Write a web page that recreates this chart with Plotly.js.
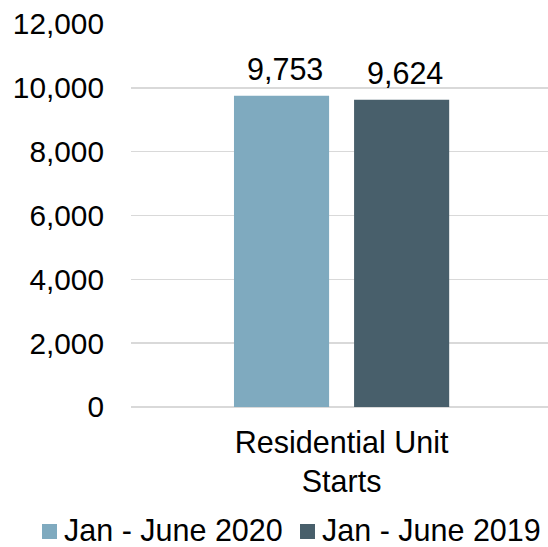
<!DOCTYPE html>
<html><head><meta charset="utf-8">
<script src="https://cdn.plot.ly/plotly-3.0.1.min.js"></script>
<style>html,body{margin:0;padding:0;background:#fff}#chart{width:548px;height:547px}</style>
</head><body><div id="chart"></div>
<script>
const categories = ["Residential Unit<br>Starts"];
const seriesNames = ["Jan - June 2020", "Jan - June 2019"];
const values2020 = [9753];
const values2019 = [9624];
const colors = ["#7FAABF", "#485F6B"];
const FONT = "Liberation Sans, Arial, sans-serif";
const FS = 30.5;
const FSY = 29.8;

const traces = [
  {type:'bar', name:seriesNames[0], x:categories, y:values2020, marker:{color:colors[0]}, hoverinfo:'skip', showlegend:false},
  {type:'bar', name:seriesNames[1], x:categories, y:values2019, marker:{color:colors[1]}, hoverinfo:'skip', showlegend:false}
];
const fmt = v => v.toLocaleString('en-US');
const annotations = [
  {x:categories[0], y:values2020[0], xref:'x', yref:'y', text:fmt(values2020[0]), showarrow:false, xshift:-57, yshift:8, yanchor:'bottom', font:{family:FONT,size:FS,color:'#000'}},
  {x:categories[0], y:values2019[0], xref:'x', yref:'y', text:fmt(values2019[0]), showarrow:false, xshift:63, yshift:8, yanchor:'bottom', font:{family:FONT,size:FS,color:'#000'}}
];
// manual legend (paper coordinates relative to plot area)
const legendSymX = [-0.2134, 0.4053];
const legendTextX = [-0.1583, 0.4604];
const shapes = [];
seriesNames.forEach((n, i) => {
  shapes.push({type:'rect', xref:'paper', yref:'paper', x0:legendSymX[i], x1:legendSymX[i] + 0.0360, y0:-0.3446, y1:-0.3055, fillcolor:colors[i], line:{width:0}});
  annotations.push({xref:'paper', yref:'paper', x:legendTextX[i], y:-0.3211, xanchor:'left', yanchor:'middle', xshift:-2, borderpad:0, text:n, showarrow:false, font:{family:FONT,size:FS,color:'#000'}});
});
const layout = {
  width:548, height:547,
  margin:{l:131, r:0, t:24, b:140, autoexpand:false},
  paper_bgcolor:'#fff', plot_bgcolor:'#fff',
  font:{family:FONT, size:FS, color:'#000'},
  barmode:'group', bargap:0.424, bargroupgap:0.208,
  showlegend:false,
  xaxis:{type:'category', range:[-0.505, 0.495], showgrid:false, showline:false, zeroline:false, ticks:'', tickfont:{family:FONT,size:FS,color:'#000'}, ticklabelstandoff:14},
  yaxis:{range:[0,12000], dtick:2000, tick0:0, tickformat:',d', showgrid:true, gridcolor:'#D9D9D9', gridwidth:1.5, zeroline:true, zerolinecolor:'#D9D9D9', zerolinewidth:1.5, showline:false, ticks:'', tickfont:{family:FONT,size:FSY,color:'#000'}, ticklabelstandoff:26},
  annotations:annotations,
  shapes:shapes
};
Plotly.newPlot('chart', traces, layout, {staticPlot:true, displayModeBar:false});
</script></body></html>
